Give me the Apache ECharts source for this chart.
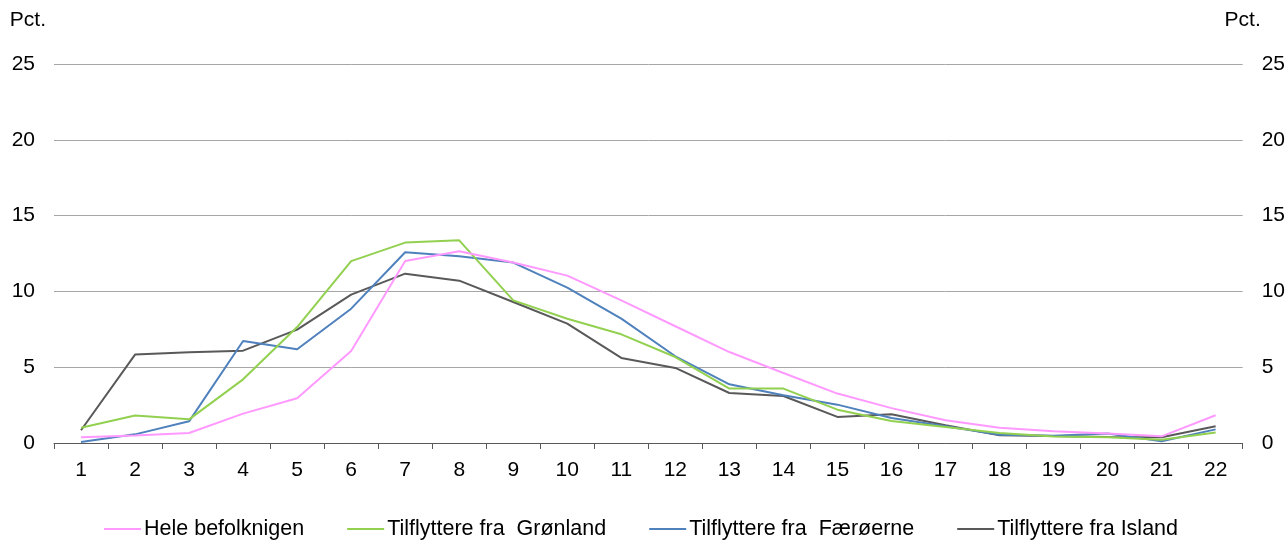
<!DOCTYPE html>
<html>
<head>
<meta charset="utf-8">
<script src="https://cdn.jsdelivr.net/npm/echarts@6/dist/echarts.min.js"></script>
<style>
  html, body { margin: 0; padding: 0; background: #fff; }
  #chart { width: 1288px; height: 541px; }
</style>
</head>
<body>
<div id="chart"></div>
<script>
const categories = ['1', '2', '3', '4', '5', '6', '7', '8', '9', '10', '11',
  '12', '13', '14', '15', '16', '17', '18', '19', '20', '21', '22']

const seriesNames = [
  'Hele befolknigen',
  'Tilflyttere fra  Grønland',
  'Tilflyttere fra  Færøerne',
  'Tilflyttere fra Island',
]

const heleBefolkningen = [0.38, 0.49, 0.66, 1.94, 2.95, 6.07, 12.0, 12.65, 11.9, 11.04, 9.41,
  7.7, 6.0, 4.62, 3.26, 2.3, 1.5, 1.01, 0.77, 0.62, 0.44, 1.83]
const groenland = [1.01, 1.81, 1.56, 4.2, 7.65, 12.0, 13.22, 13.37, 9.41, 8.2, 7.17,
  5.67, 3.59, 3.59, 2.2, 1.45, 1.05, 0.66, 0.43, 0.38, 0.22, 0.7]
const faeroeerne = [0.07, 0.57, 1.43, 6.73, 6.18, 8.86, 12.58, 12.32, 11.9, 10.25, 8.2,
  5.72, 3.87, 3.15, 2.53, 1.65, 1.1, 0.55, 0.48, 0.62, 0.11, 0.9]
const island = [0.84, 5.83, 5.98, 6.09, 7.48, 9.79, 11.17, 10.71, 9.3, 7.87, 5.61,
  4.95, 3.3, 3.1, 1.72, 1.89, 1.17, 0.51, 0.46, 0.4, 0.38, 1.1]

const colors = ['#ff99ff', '#92d050', '#4f81bd', '#595959']

const font = 'Liberation Sans, Arial, sans-serif'
const fontSize = 21
const textColor = '#000'

const chart = echarts.init(document.getElementById('chart'))

function yAxis(position) {
  return {
    type: 'value',
    position: position,
    min: 0,
    max: 25,
    interval: 5,
    name: 'Pct.',
    nameLocation: 'end',
    nameGap: 33,
    nameTextStyle: {
      color: textColor,
      fontFamily: font,
      fontSize: fontSize,
      align: position === 'left' ? 'right' : 'center',
      padding: position === 'left' ? [0, 8, 0, 0] : [0, 0, 0, 0],
    },
    axisLine: { show: false },
    axisTick: { show: false },
    axisLabel: {
      color: textColor,
      fontFamily: font,
      fontSize: fontSize,
      margin: 19,
    },
    splitLine: {
      show: position === 'left',
      lineStyle: { color: '#a6a6a6', width: 1 },
    },
  }
}

chart.setOption({
  animation: false,
  color: colors,
  textStyle: { fontFamily: font },
  grid: {
    left: 54,
    right: 45,
    top: 64,
    bottom: 98,
    containLabel: false,
  },
  legend: {
    top: 518,
    left: 104,
    padding: 0,
    itemWidth: 37,
    itemHeight: 2,
    itemGap: 43,
    icon: 'rect',
    textStyle: {
      color: textColor,
      fontFamily: font,
      fontSize: 21.5,
      padding: [0, 0, 0, -2],
    },
    data: seriesNames,
  },
  xAxis: {
    type: 'category',
    data: categories,
    boundaryGap: true,
    axisLine: { lineStyle: { color: '#595959', width: 1 } },
    axisTick: {
      show: true,
      length: 6,
      alignWithLabel: false,
      lineStyle: { color: '#595959' },
    },
    axisLabel: {
      color: textColor,
      fontFamily: font,
      fontSize: fontSize,
      margin: 17,
    },
    splitLine: { show: false },
  },
  yAxis: [yAxis('left'), yAxis('right')],
  series: [
    { name: seriesNames[0], data: heleBefolkningen },
    { name: seriesNames[1], data: groenland },
    { name: seriesNames[2], data: faeroeerne },
    { name: seriesNames[3], data: island },
  ].map((s, i) => ({
    name: s.name,
    type: 'line',
    data: s.data,
    yAxisIndex: 0,
    symbol: 'none',
    z: 10 - i,
    lineStyle: { color: colors[i], width: 2 },
    itemStyle: { color: colors[i] },
  })),
})
</script>
</body>
</html>
